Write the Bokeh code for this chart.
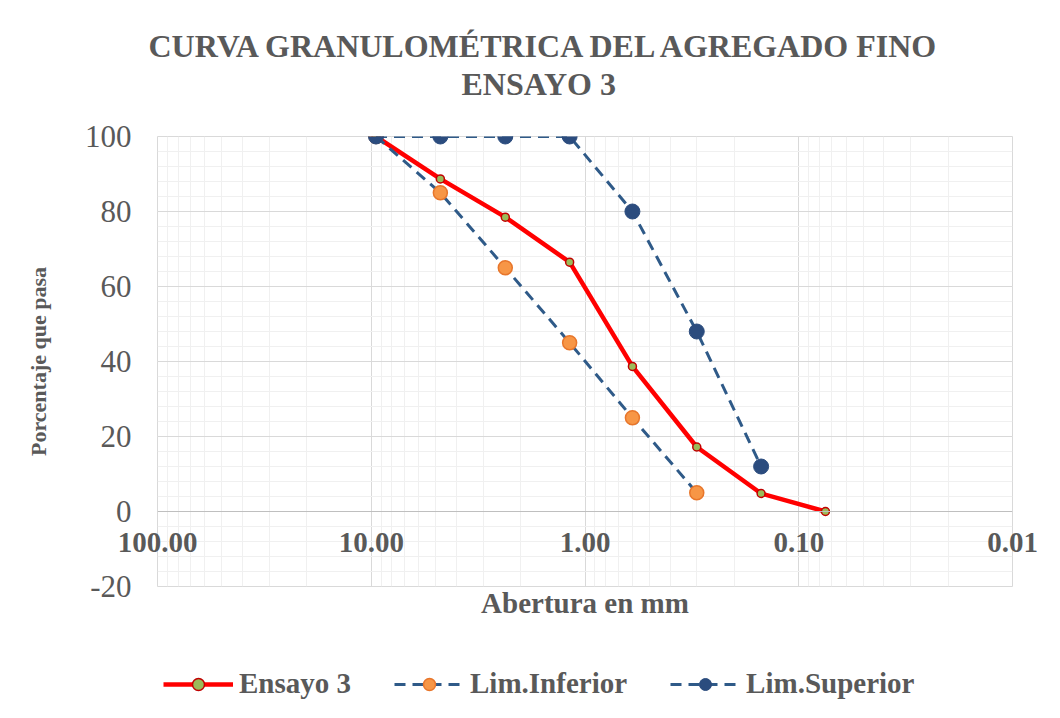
from bokeh.plotting import figure
from bokeh.layouts import column
from bokeh.models import Range1d, FixedTicker, Title, Legend, LegendItem, Span
from bokeh.embed import file_html
from bokeh.resources import INLINE

# ---- data ----
sieve_mm = [9.5, 4.75, 2.36, 1.18, 0.6, 0.3, 0.15, 0.075]
ensayo3 = [100.0, 88.7, 78.5, 66.5, 38.7, 17.2, 4.8, 0.0]
lim_inf_mm = [9.5, 4.75, 2.36, 1.18, 0.6, 0.3]
lim_inf = [100, 85, 65, 45, 25, 5]
lim_sup_mm = [9.5, 4.75, 2.36, 1.18, 0.6, 0.3, 0.15]
lim_sup = [100, 100, 100, 100, 80, 48, 12]
x_ticks = [100, 10, 1, 0.1, 0.01]
x_tick_labels = ["100.00", "10.00", "1.00", "0.10", "0.01"]
y_ticks = [-20, 0, 20, 40, 60, 80, 100]
y_tick_labels = ["-20", "0", "20", "40", "60", "80", "100"]
title_lines = ["CURVA GRANULOMÉTRICA DEL AGREGADO FINO", "ENSAYO 3"]
series_names = ["Ensayo 3", "Lim.Inferior", "Lim.Superior"]

FONT = "Liberation Serif"
TXT = "#595959"
RED = "#ff0000"
DASH = "#2f5a88"
STYLES = [
    dict(line=dict(line_color=RED, line_width=4.5),
         mark=dict(marker="circle", size=8, fill_color="#9bbb59",
                   line_color="#c00000", line_width=1.5)),
    dict(line=dict(line_color=DASH, line_width=3, line_dash="11 7"),
         mark=dict(marker="circle", size=14, fill_color="#f79646",
                   line_color="#e8762b", line_width=1.5)),
    dict(line=dict(line_color=DASH, line_width=3, line_dash="11 7"),
         mark=dict(marker="circle", size=15, fill_color="#2b4c7e",
                   line_color="#2b4c7e", line_width=1)),
]

p = figure(width=1052, height=640, x_axis_type="log",
           x_range=Range1d(100, 0.01), y_range=Range1d(-20, 100),
           output_backend="svg", toolbar_location=None,
           min_border_left=157, min_border_right=40,
           min_border_top=136, min_border_bottom=54)
p.title = None
p.outline_line_color = "#d9d9d9"
p.background_fill_color = "white"
p.border_fill_color = "white"

# grids
minor_x = [m * d for d in [0.01, 0.1, 1, 10] for m in range(2, 10)]
p.xgrid.ticker = FixedTicker(ticks=x_ticks, minor_ticks=minor_x)
p.xgrid.grid_line_color = "#d9d9d9"
p.xgrid.minor_grid_line_color = "#f0f0f0"
p.ygrid.ticker = FixedTicker(ticks=y_ticks, minor_ticks=list(range(-20, 101, 4)))
p.ygrid.grid_line_color = "#d9d9d9"
p.ygrid.minor_grid_line_color = "#f0f0f0"

# horizontal axis line crossing at 0
p.add_layout(Span(location=0, dimension="width", line_color="#bfbfbf", line_width=1))

# x axis (labels lifted up to sit just below the 0 line)
xa = p.xaxis[0]
xa.ticker = FixedTicker(ticks=x_ticks)
xa.major_label_overrides = {float(t): l for t, l in zip(x_ticks, x_tick_labels)}
xa.major_tick_line_color = None
xa.minor_tick_line_color = None
xa.axis_line_color = None
xa.major_label_text_font = FONT
xa.major_label_text_font_style = "bold"
xa.major_label_text_font_size = "29px"
xa.major_label_text_color = TXT
xa.major_label_standoff = -60
xa.axis_label = "Abertura en mm"
xa.axis_label_text_font = FONT
xa.axis_label_text_font_style = "bold"
xa.axis_label_text_font_size = "29px"
xa.axis_label_text_color = TXT
xa.axis_label_standoff = 32

ya = p.yaxis[0]
ya.ticker = FixedTicker(ticks=y_ticks)
ya.major_label_overrides = {t: l for t, l in zip(y_ticks, y_tick_labels)}
ya.major_tick_line_color = None
ya.minor_tick_line_color = None
ya.axis_line_color = None
ya.major_label_text_font = FONT
ya.major_label_text_font_size = "31px"
ya.major_label_text_color = TXT
ya.major_label_standoff = 20
ya.axis_label = "Porcentaje que pasa"
ya.axis_label_text_font = FONT
ya.axis_label_text_font_style = "bold"
ya.axis_label_text_font_size = "22px"
ya.axis_label_text_color = TXT
ya.axis_label_standoff = 31

# titles: spacer closest to the plot, then line 2, then line 1
p.add_layout(Title(text=" ", text_font_size="1px", standoff=32), "above")
p.add_layout(Title(text=title_lines[1], align="left", offset=304, text_font=FONT,
                   text_font_style="bold", text_font_size="32px", text_color=TXT,
                   standoff=0), "above")
p.add_layout(Title(text=title_lines[0], align="left", offset=-9, text_font=FONT,
                   text_font_style="bold", text_font_size="32px", text_color=TXT,
                   standoff=0), "above")

# series
series = [(sieve_mm, ensayo3), (lim_inf_mm, lim_inf), (lim_sup_mm, lim_sup)]
for (xs, ys), st in zip(series, STYLES):
    p.line(xs, ys, **st["line"])
    p.scatter(xs, ys, **st["mark"])

# legend strip below the chart (its renderers hold the series data, which
# lies outside this strip's negative ranges, so only the legend shows)
lg = figure(width=1052, height=70, x_range=Range1d(-2, -1), y_range=Range1d(-2, -1),
            output_backend="svg", toolbar_location=None,
            x_axis_location=None, y_axis_location=None, min_border=0)
lg.grid.visible = False
lg.outline_line_color = None
lg.background_fill_color = "white"
lg.border_fill_color = "white"
items = []
for name, (xs, ys), st in zip(series_names, series, STYLES):
    rl = lg.line(xs, ys, **st["line"])
    rm = lg.scatter(xs, ys, **st["mark"])
    items.append(LegendItem(label=name, renderers=[rl, rm]))
legend = Legend(items=items, orientation="horizontal", location=(6, 10),
                glyph_width=70, glyph_height=30, label_standoff=6, spacing=43,
                padding=0, margin=0, border_line_color=None,
                background_fill_alpha=0,
                label_text_font=FONT, label_text_font_style="bold",
                label_text_font_size="29px", label_text_color=TXT)
lg.add_layout(legend)

page = column(p, lg, spacing=0)
open("out.html", "w").write(file_html(page, INLINE))
